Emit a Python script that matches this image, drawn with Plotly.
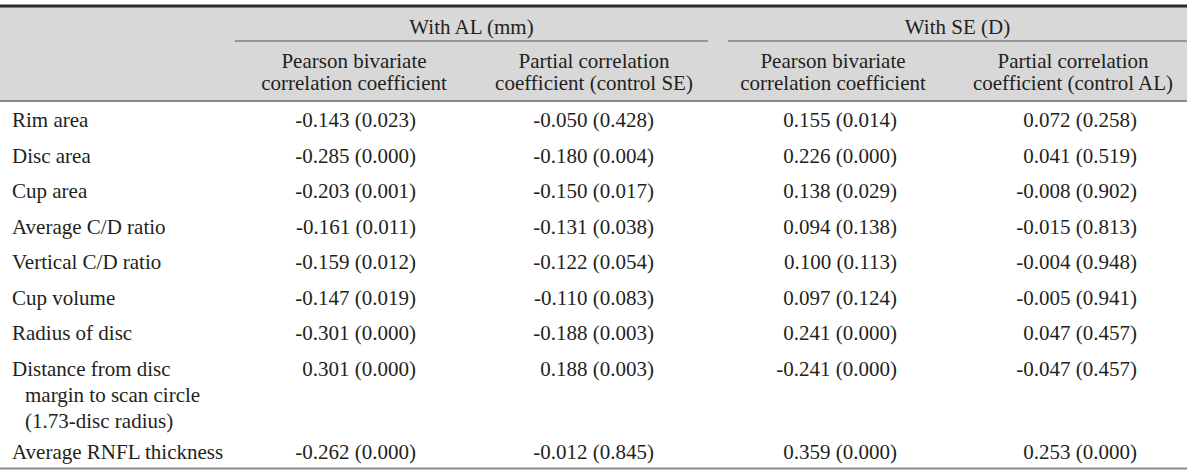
import plotly.graph_objects as go

# ---------------- data ----------------
row_labels = [
    ["Rim area"],
    ["Disc area"],
    ["Cup area"],
    ["Average C/D ratio"],
    ["Vertical C/D ratio"],
    ["Cup volume"],
    ["Radius of disc"],
    ["Distance from disc", "margin to scan circle", "(1.73-disc radius)"],
    ["Average RNFL thickness"],
]
group_headers = ["With AL (mm)", "With SE (D)"]
sub_headers = [
    ["Pearson bivariate", "correlation coefficient"],
    ["Partial correlation", "coefficient (control SE)"],
    ["Pearson bivariate", "correlation coefficient"],
    ["Partial correlation", "coefficient (control AL)"],
]
al_pearson_r = [-0.143, -0.285, -0.203, -0.161, -0.159, -0.147, -0.301, 0.301, -0.262]
al_pearson_p = [0.023, 0.000, 0.001, 0.011, 0.012, 0.019, 0.000, 0.000, 0.000]
al_partial_r = [-0.050, -0.180, -0.150, -0.131, -0.122, -0.110, -0.188, 0.188, -0.012]
al_partial_p = [0.428, 0.004, 0.017, 0.038, 0.054, 0.083, 0.003, 0.003, 0.845]
se_pearson_r = [0.155, 0.226, 0.138, 0.094, 0.100, 0.097, 0.241, -0.241, 0.359]
se_pearson_p = [0.014, 0.000, 0.029, 0.138, 0.113, 0.124, 0.000, 0.000, 0.000]
se_partial_r = [0.072, 0.041, -0.008, -0.015, -0.004, -0.005, 0.047, -0.047, 0.253]
se_partial_p = [0.258, 0.519, 0.902, 0.813, 0.948, 0.941, 0.457, 0.457, 0.000]

# ---------------- layout constants ----------------
W, H = 1200, 476
FONT = "Liberation Serif, Times New Roman, serif"
FS = 21
TXT = "#231f20"
TABLE_RIGHT = 1187
HEAD_TOP, HEAD_BOTTOM = 6, 101
col_right = [416, 654, 897, 1137]
col_center = [354, 594, 833, 1073]
group_span = [(235, 708), (728, TABLE_RIGHT)]
label_x = 12
indent = 13
row_start = 102
single_h = 35.5
line_gap = 26
first_off = 20

fig = go.Figure()

def fmt(r, p):
    return f"{r:.3f} ({p:.3f})"

# row centers
row_y = []
y = row_start
for lines in row_labels:
    row_y.append(y + first_off)
    y += single_h + (len(lines) - 1) * 24
table_bottom = y - 1

# label column
lx, ly, lt = [], [], []
for lines, yc in zip(row_labels, row_y):
    for i, t in enumerate(lines):
        lx.append(label_x + (indent if i > 0 else 0))
        ly.append(yc + i * line_gap)
        lt.append(t)
fig.add_trace(go.Scatter(x=lx, y=ly, text=lt, mode="text", textposition="middle right",
                         textfont=dict(family=FONT, size=FS, color=TXT), hoverinfo="skip"))

columns = [
    (al_pearson_r, al_pearson_p),
    (al_partial_r, al_partial_p),
    (se_pearson_r, se_pearson_p),
    (se_partial_r, se_partial_p),
]
for ci, (rs, ps) in enumerate(columns):
    fig.add_trace(go.Scatter(
        x=[col_right[ci]] * len(rs), y=row_y,
        text=[fmt(r, p) for r, p in zip(rs, ps)],
        mode="text", textposition="middle left",
        textfont=dict(family=FONT, size=FS, color=TXT), hoverinfo="skip"))

# header texts
hx, hy, ht = [], [], []
for (a, b), t in zip(group_span, group_headers):
    hx.append((a + b) / 2)
    hy.append(29)
    ht.append(t)
for ci, lines in enumerate(sub_headers):
    for i, t in enumerate(lines):
        hx.append(col_center[ci])
        hy.append(63 + i * 22)
        ht.append(t)
fig.add_trace(go.Scatter(x=hx, y=hy, text=ht, mode="text", textposition="middle center",
                         textfont=dict(family=FONT, size=FS, color=TXT), hoverinfo="skip"))

shapes = [
    dict(type="rect", x0=0, x1=TABLE_RIGHT, y0=HEAD_TOP, y1=HEAD_BOTTOM,
         fillcolor="#d8d8d8", line=dict(width=0), layer="below"),
    dict(type="line", x0=0, x1=TABLE_RIGHT, y0=HEAD_TOP, y1=HEAD_TOP,
         line=dict(color="#2a2a2a", width=3)),
    dict(type="line", x0=0, x1=TABLE_RIGHT, y0=HEAD_BOTTOM, y1=HEAD_BOTTOM,
         line=dict(color="#6a6a6a", width=1.5)),
    dict(type="line", x0=0, x1=TABLE_RIGHT, y0=table_bottom, y1=table_bottom,
         line=dict(color="#8a8a8a", width=2)),
]
for a, b in group_span:
    shapes.append(dict(type="line", x0=a, x1=b, y0=41, y1=41,
                       line=dict(color="#555555", width=1)))

fig.update_layout(
    width=W, height=H, margin=dict(l=0, r=0, t=0, b=0),
    paper_bgcolor="white", plot_bgcolor="white", showlegend=False,
    xaxis=dict(range=[0, W], visible=False, fixedrange=True),
    yaxis=dict(range=[H, 0], visible=False, fixedrange=True),
    shapes=shapes,
)
fig.write_html("out.html", config={"displayModeBar": False},
               post_script="document.body.style.margin='0';document.body.style.overflow='hidden';")
